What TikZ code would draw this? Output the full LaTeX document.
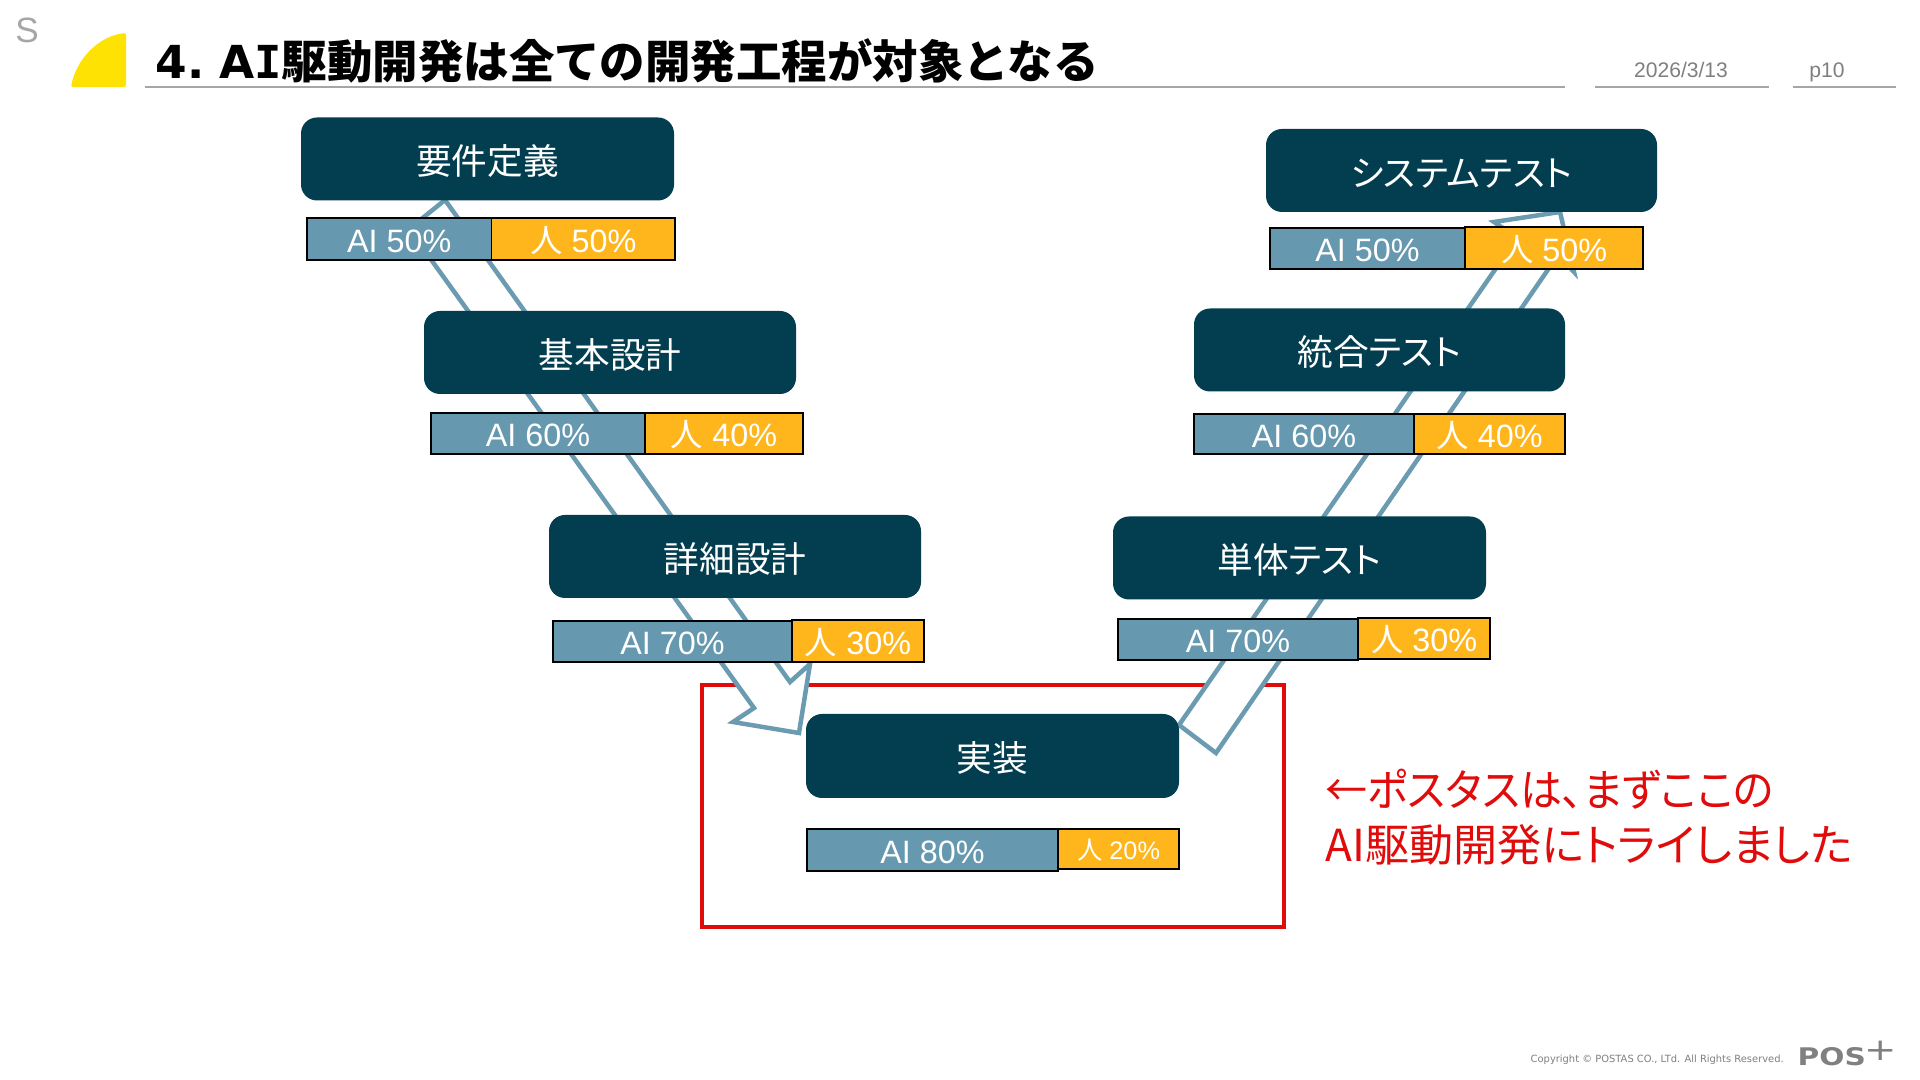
\documentclass[tikz,border=0pt]{standalone}
\usepackage{fontspec}
\setmainfont{Liberation Sans}
\newfontfamily\jpfont[RawFeature=+palt]{Noto Sans CJK JP}
\newfontfamily\jptitle{Noto Sans CJK JP}
\newfontfamily\wideface{DejaVu Sans}
\newfontfamily\slabface{DejaVu Sans Mono}
\usetikzlibrary{arrows.meta}
\definecolor{boxteal}{HTML}{023E4F}
\definecolor{aiblue}{HTML}{6699AF}
\definecolor{humanorange}{HTML}{FEB61C}
\definecolor{flowblue}{HTML}{6B9BB0}
\definecolor{alertred}{HTML}{E00B0B}
\definecolor{headgray}{HTML}{A6A6A6}
\tikzset{
  stagebox/.style={fill=boxteal, text=white, rounded corners=0.16cm, inner sep=0pt, minimum height=0.83cm, text height=0.36cm, text depth=0.04cm, font=\jpfont\fontsize{10.15}{12}\selectfont},
  aibar/.style={draw=black, fill=aiblue, text=white, line width=0.018cm, inner sep=0pt, outer sep=0pt, anchor=south west, text height=0.275cm, text depth=0.012cm, font=\fontsize{9.2}{11}\selectfont},
  humanbar/.style={aibar, fill=humanorange},
  flowarrow/.style={draw=flowblue, fill=white, line width=0.045cm, line join=miter},
  headrule/.style={draw=headgray, line width=0.02cm},
  headtext/.style={text=gray, anchor=base, font=\fontsize{6}{7}\selectfont},
  alerttext/.style={text=alertred, anchor=west, font=\jpfont\fontsize{12.55}{15}\selectfont}
}
\begin{document}
\begin{tikzpicture}[line cap=butt]

\useasboundingbox (0,0) rectangle (19.2,10.8);
\fill[white] (0,0) rectangle (19.2,10.8);

% header
\node[text=headgray, font=\fontsize{10}{12}\selectfont] (sletter) at (0.27,10.5) {S};
\fill[fill=yellow!85!orange, rounded corners=0.02cm] (0.71,9.93) .. controls (0.76,10.2) and (0.98,10.44) .. (1.26,10.47) -- (1.26,9.93) -- cycle;
\node[anchor=west, font=\wideface\bfseries\fontsize{12.93}{15}\selectfont] (title) at (1.43,10.19) {4.\hspace{0.33em}A{\slabface\bfseries I}{\jptitle 駆動開発は全ての開発工程が対象となる}};
\draw[headrule] (1.45,9.93) -- (15.65,9.93);
\draw[headrule] (15.95,9.93) -- (17.69,9.93);
\draw[headrule] (17.93,9.93) -- (18.96,9.93);
\node[headtext] (date) at (16.81,10.02) {2026/3/13};
\node[headtext] (page) at (18.27,10.02) {p10};

% focus frame
\draw[draw=alertred, line width=0.04cm] (7.02,3.95) rectangle (12.84,1.53);

% block arrows, behind the boxes
\coordinate (downtail) at (4.45,8.80);
\coordinate (downtip) at (7.99,3.47);
\coordinate (uptail) at (11.79,3.55);
\coordinate (uptip) at (15.60,8.68);
\draw[flowarrow] (4.09,8.51) -- (downtail) -- (7.90,3.98) -- (8.10,4.16) -- (downtip) -- (7.33,3.58) -- (7.54,3.72) -- cycle;
\draw[flowarrow] (uptail) -- (12.16,3.27) -- (15.58,8.25) -- (15.74,8.08) -- (uptip) -- (14.94,8.58) -- (15.17,8.42) -- cycle;

% stages
\node[stagebox, minimum width=3.73cm] (req) at (4.875,9.21) {要件定義};
\node[stagebox, minimum width=3.72cm] (basic) at (6.10,7.275) {基本設計};
\node[stagebox, minimum width=3.72cm] (detail) at (7.35,5.235) {詳細設計};
\node[stagebox, minimum width=3.73cm, minimum height=0.84cm] (impl) at (9.925,3.24) {実装};
\node[stagebox, minimum width=3.73cm] (unit) at (12.995,5.22) {単体テスト};
\node[stagebox, minimum width=3.71cm] (integ) at (13.795,7.30) {統合テスト};
\node[stagebox, minimum width=3.91cm] (sys) at (14.615,9.095) {システムテスト};

% shares
\node[aibar, minimum width=1.845cm, minimum height=0.42cm] (reqai) at (3.07,8.20) {AI 50\%};
\node[humanbar, minimum width=1.835cm, minimum height=0.42cm] (reqhum) at (4.915,8.20) {{\jpfont 人} 50\%};
\node[aibar, minimum width=2.14cm, minimum height=0.41cm] (basicai) at (4.31,6.26) {AI 60\%};
\node[humanbar, minimum width=1.58cm, minimum height=0.41cm] (basichum) at (6.45,6.26) {{\jpfont 人} 40\%};
\node[aibar, minimum width=2.39cm, minimum height=0.41cm] (detailai) at (5.53,4.18) {AI 70\%};
\node[humanbar, minimum width=1.32cm, minimum height=0.42cm] (detailhum) at (7.92,4.18) {{\jpfont 人} 30\%};
\node[aibar, minimum width=2.51cm, minimum height=0.42cm] (implai) at (8.07,2.09) {AI 80\%};
\node[humanbar, minimum width=1.21cm, minimum height=0.40cm, text height=0.225cm, font=\fontsize{7.2}{9}\selectfont] (implhum) at (10.58,2.11) {{\jpfont 人} 20\%};
\node[aibar, minimum width=2.40cm, minimum height=0.41cm] (unitai) at (11.18,4.20) {AI 70\%};
\node[humanbar, minimum width=1.32cm, minimum height=0.41cm] (unithum) at (13.58,4.21) {{\jpfont 人} 30\%};
\node[aibar, minimum width=2.20cm, minimum height=0.40cm] (integai) at (11.94,6.26) {AI 60\%};
\node[humanbar, minimum width=1.51cm, minimum height=0.40cm] (integhum) at (14.14,6.26) {{\jpfont 人} 40\%};
\node[aibar, minimum width=1.95cm, minimum height=0.41cm] (sysai) at (12.70,8.11) {AI 50\%};
\node[humanbar, minimum width=1.78cm, minimum height=0.42cm] (syshum) at (14.65,8.11) {{\jpfont 人} 50\%};

% note
\node[alerttext] (noteone) at (13.13,2.91) {\scalebox{0.953}[1]{←ポスタスは、まずここの}};
\node[alerttext] (notetwo) at (13.13,2.35) {AI駆動開発にトライしました};

% footer
\node[anchor=west, inner sep=0pt, text=gray, font=\wideface\fontsize{2.82}{4}\selectfont] (copyright) at (15.30,0.20) {Copyright © POSTAS CO., LTd. All Rights Reserved.};
\node[anchor=west, inner sep=0pt, text=gray, font=\wideface\bfseries\fontsize{6.9}{8}\selectfont] (logo) at (17.97,0.23) {\scalebox{1.22}[1]{POS}};
\node[anchor=center, inner sep=0pt, text=gray, font=\wideface\fontsize{11}{12}\selectfont] (logoplus) at (18.81,0.29) {\scalebox{1}[0.8]{+}};

\end{tikzpicture}
\end{document}
